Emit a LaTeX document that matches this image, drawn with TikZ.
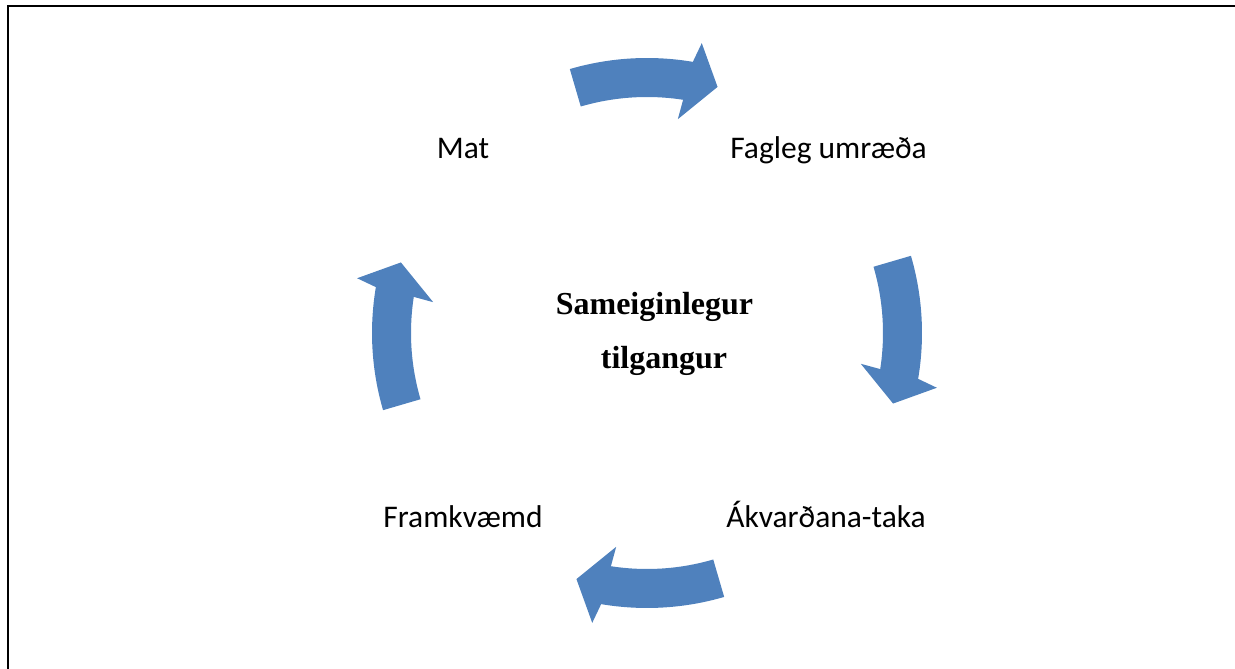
\documentclass[tikz,border=0pt]{standalone}
\usepackage{fontspec}
\setmainfont{Carlito}
\newfontfamily\hubfont{Liberation Serif}
\definecolor{arrowblue}{HTML}{4F81BD}

\begin{document}
\begin{tikzpicture}[x=1pt,y=1pt,
  steplabel/.style={font=\fontsize{31.5}{38}\selectfont, anchor=base, inner sep=0pt},
  hubtext/.style={font=\hubfont\bfseries\fontsize{32}{38}\selectfont, anchor=base, inner sep=0pt},
  cyclearrow/.style={fill=arrowblue, draw=none}]
  \useasboundingbox (0,0) rectangle (1235,669);

  % frame (top and left edges)
  \draw[line width=2pt] (7.7,0) -- (7.7,663) -- (1235,663);

  % centre of the cycle
  \coordinate (C) at (647,336);

  % four curved arrows, running clockwise round the centre
  \begin{scope}[shift={(C)}]
    \foreach \a in {90,0,-90,180} {
      \fill[cyclearrow]
        (\a+16.3:275) arc[start angle=\a+16.3, end angle=\a-9.6, radius=275]
        -- (\a-10.7:295) -- (\a-16:256) -- (\a-8.2:216)
        -- (\a-8.8:236) arc[start angle=\a-8.8, end angle=\a+16.3, radius=236]
        -- cycle;
    }
  \end{scope}

  % step labels
  \node[steplabel] (fagleg) at (828.5,510) {Fagleg umræða};
  \node[steplabel] (akvord) at (826,141) {Ákvarðana-taka};
  \node[steplabel] (framkv) at (463,141) {Framkvæmd};
  \node[steplabel] (mat)    at (463,510) {Mat};

  % centre text
  \node[hubtext] (hub1) at (654.5,354) {Sameiginlegur};
  \node[hubtext] (hub2) at (664,300) {tilgangur};
\end{tikzpicture}
\end{document}
